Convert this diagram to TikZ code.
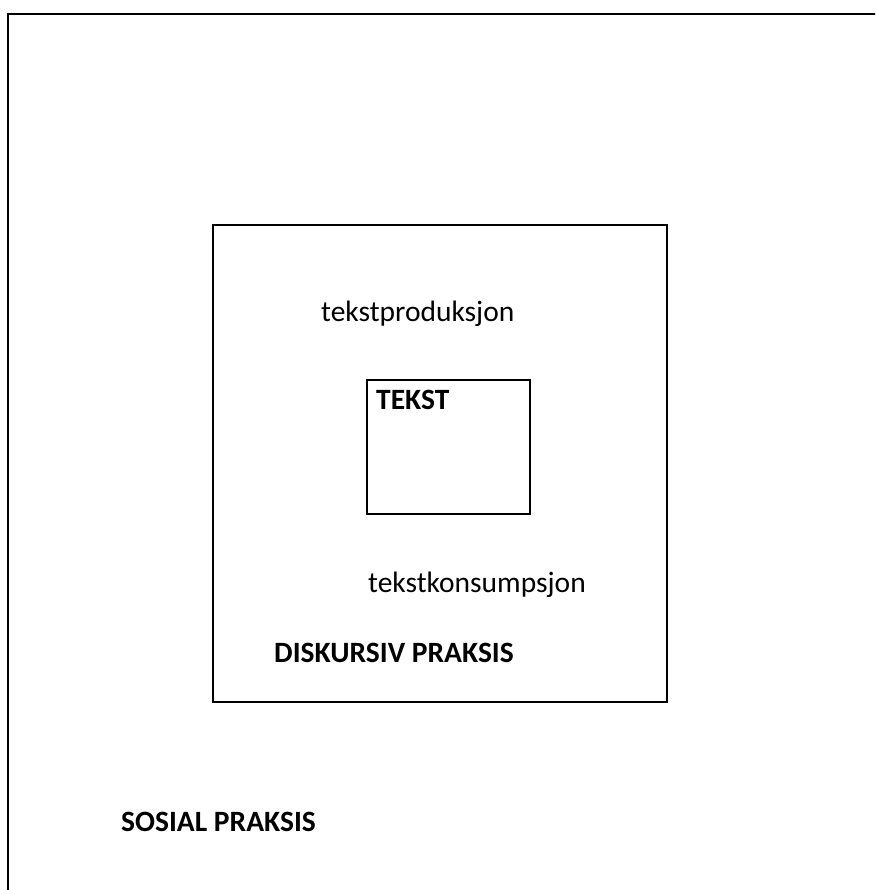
\documentclass[tikz,border=0pt]{standalone}
\usepackage{fontspec}
\setmainfont{Carlito}
\begin{document}
\begin{tikzpicture}[x=1pt,y=-1pt,
  frame/.style={draw=black,line width=2pt,inner sep=0pt},
  lbl/.style={anchor=base west,inner sep=0pt,font=\fontsize{29.5}{34}\selectfont},
  blbl/.style={lbl,font=\fontsize{29.5}{34}\selectfont\bfseries}]
\useasboundingbox (0,0) rectangle (875,890);
\clip (0,0) rectangle (875,890);
\node[frame,minimum width=880pt,minimum height=890pt,anchor=north west] (outer) at (7,13) {};
\node[frame,minimum width=454pt,minimum height=477pt,anchor=north west] (mid) at (212,224) {};
\node[frame,minimum width=163pt,minimum height=134pt,anchor=north west] (inner) at (366,379) {};
\node[blbl] (tekst) at (376,409) {TEKST};
\node[lbl] (prod) at (321,321) {tekstproduksjon};
\node[lbl] (kons) at (368,592) {tekstkonsumpsjon};
\node[blbl] (disk) at (274,662) {DISKURSIV PRAKSIS};
\node[blbl] (sos) at (121,831) {SOSIAL PRAKSIS};
\end{tikzpicture}
\end{document}
